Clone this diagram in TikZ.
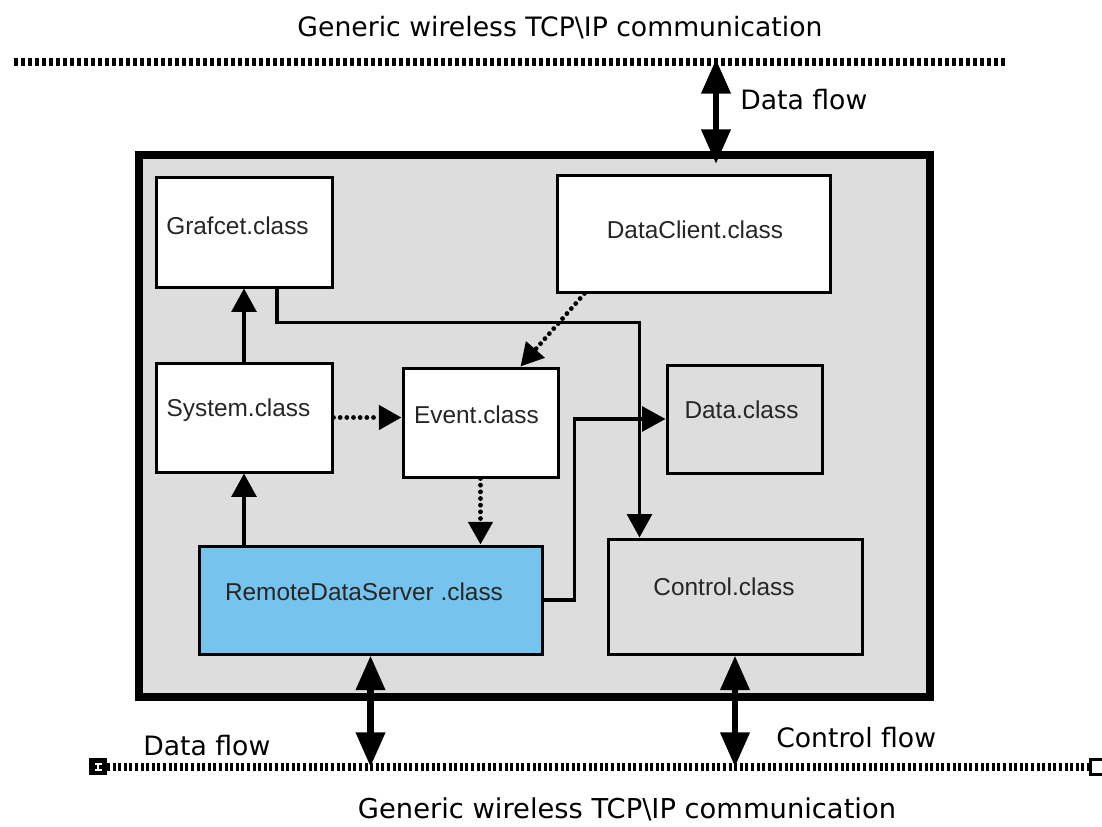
\documentclass[tikz,border=0pt]{standalone}
\usepackage{fontspec}
\setmainfont{Liberation Sans}
\newfontfamily\djv{DejaVu Sans}
\usetikzlibrary{arrows.meta,calc}
\definecolor{bggray}{RGB}{221,221,221}
\definecolor{rdsblue}{RGB}{118,196,238}
\begin{document}
\begin{tikzpicture}[x=0.75pt,y=-0.75pt,
  box/.style={draw=black, line width=2.25pt, fill=white, inner sep=0pt},
  sz/.style 2 args={minimum width=#1*0.75pt, minimum height=#2*0.75pt},
  lbl/.style={font=\fontsize{18.3}{20}\selectfont, text=black!85, inner sep=0pt},
  conn/.style={line width=2.7pt, -{Triangle[length=17.5pt,width=18.5pt]}},
  dotconn/.style={line width=3.6pt, line cap=round, dash pattern=on 0pt off 5pt, -{Triangle[length=17pt,width=18pt]}},
  big/.style={line width=5.2pt, {Triangle[length=26pt,width=21pt]}-{Triangle[length=26pt,width=21pt]}},
  caption/.style={font=\djv\fontsize{20}{24}\selectfont, inner sep=0pt}
]
\useasboundingbox (0,0) rectangle (1102,827);
\fill[white] (0,0) rectangle (1102,827);

% main board
\node[draw=black, line width=6pt, fill=bggray, inner sep=0pt, sz={791.5}{542}] (board) at (534.25,426) {};

% class boxes
\node[box, sz={176}{109}, label={[lbl,shift={(-6.5,-6.5)}]center:Grafcet.class}] (gra) at (244,232.5) {};
\node[box, sz={176}{109}, label={[lbl,shift={(-5.5,-7)}]center:System.class}] (sys) at (244,417.5) {};
\node[box, sz={155}{109}, label={[lbl,shift={(-4,-7.5)}]center:Event.class}] (ev) at (480.5,422.5) {};
\node[box, sz={273}{116}, label={[lbl,shift={(1.5,-4)}]center:DataClient.class}] (dc) at (693.5,234) {};
\node[box, fill=bggray, sz={155}{108}, label={[lbl,shift={(-3,-9)}]center:Data.class}] (dat) at (744.5,419) {};
\node[box, fill=rdsblue, sz={343}{108}, label={[lbl,shift={(-6.5,-8)}]center:RemoteDataServer .class}] (rds) at (370.5,600) {};
\node[box, fill=bggray, sz={254}{115}, label={[lbl,shift={(-11,-9.5)}]center:Control.class}] (ctl) at (735,596.5) {};

% internal connectors
\draw[conn] (sys.north) -- (gra.south);
\draw[conn] (rds.north -| sys.south) -- (sys.south);
\draw[dotconn] (sys.east) -- (sys.east -| ev.west);
\draw[dotconn] (ev.south) -- (ev.south |- rds.north);
\draw[dotconn] ($(dc.south west)+(29,0)$) -- ($(ev.north)+(40,0)$);
\draw[conn] ($(gra.south)+(33,0)$) -- ++(0,34) -| ($(ctl.north west)+(33,0)$);
\draw[conn] (rds.east) -- ++(31,0) |- (dat.west);

% communication lines
\coordinate (tl) at (14,62);
\coordinate (tr) at (1006,62);
\draw[line width=6pt, dash pattern=on 3pt off 2.25pt] (tl) -- (tr);
\coordinate (bl) at (107,767);
\coordinate (br) at (1090,767);
\draw[line width=6.5pt, dash pattern=on 2.2pt off 2pt] (bl) -- (br);
\node[fill=black, inner sep=0pt, sz={18}{17}] (lend) at (98,766.5) {};
\fill[white] (94.5,762.5) rectangle (101.5,764.5);
\fill[white] (97,762.5) rectangle (99,771);
\fill[white] (94.5,769) rectangle (101.5,771);
\node[draw=black, fill=white, line width=2.25pt, inner sep=0pt, sz={14}{15}] (rend) at (1097,766.5) {};

% data / control flow arrows
\coordinate (ttop) at (716,62);
\draw[big] ($(ttop)+(0,-3)$) -- ($(ttop |- board.north)+(0,13)$);
\draw[big] (rds.south) -- (rds.south |- bl);
\draw[big] (ctl.south) -- (ctl.south |- bl);

% captions
\node[caption, anchor=base] (t1) at (560,37) {Generic wireless TCP\textbackslash IP communication};
\node[caption, anchor=base west] (df1) at (740,110) {Data flow};
\node[caption, anchor=base west] (df2) at (143,755) {Data flow};
\node[caption, anchor=base west] (cf) at (776,747) {Control flow};
\node[caption, font=\djv\fontsize{20.5}{24}\selectfont, anchor=base] (t2) at (627,818) {Generic wireless TCP\textbackslash IP communication};
\end{tikzpicture}
\end{document}
